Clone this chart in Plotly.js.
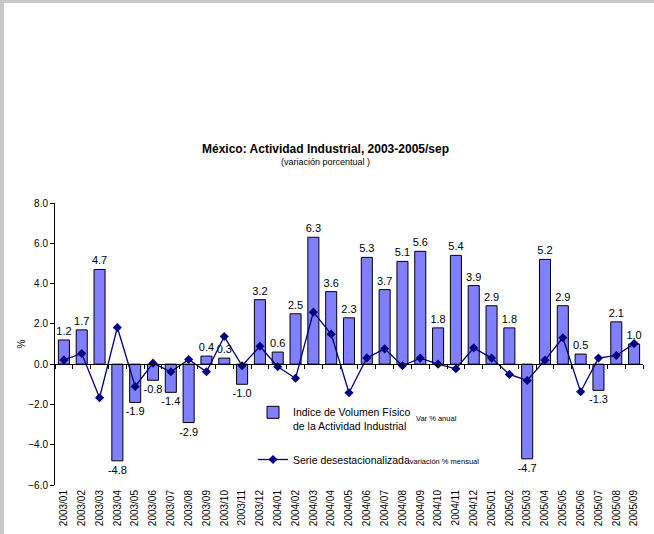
<!DOCTYPE html>
<html>
<head>
<meta charset="utf-8">
<script src="https://cdn.plot.ly/plotly-3.0.1.min.js"></script>
<style>
html,body{margin:0;padding:0;background:#fff;}
#chart{position:absolute;left:0;top:0;width:654px;height:534px;}
#bl{position:absolute;left:0;top:0;width:4px;height:534px;background:#c8c8c8;}
#bt{position:absolute;left:0;top:0;width:654px;height:3px;background:#c8c8c8;}
</style>
</head>
<body>
<div id="chart"></div>
<div id="bl"></div>
<div id="bt"></div>
<script>
const months = ["2003/01","2003/02","2003/03","2003/04","2003/05","2003/06","2003/07","2003/08","2003/09","2003/10","2003/11","2003/12",
"2004/01","2004/02","2004/03","2004/04","2004/05","2004/06","2004/07","2004/08","2004/09","2004/10","2004/11","2004/12",
"2005/01","2005/02","2005/03","2005/04","2005/05","2005/06","2005/07","2005/08","2005/09"];
const anual = [1.2,1.7,4.7,-4.8,-1.9,-0.8,-1.4,-2.9,0.4,0.3,-1.0,3.2,
0.6,2.5,6.3,3.6,2.3,5.3,3.7,5.1,5.6,1.8,5.4,3.9,
2.9,1.8,-4.7,5.2,2.9,0.5,-1.3,2.1,1.0];
const mensual = [0.21,0.53,-1.67,1.82,-1.11,0.05,-0.38,0.23,-0.38,1.37,-0.08,0.89,
-0.13,-0.70,2.58,1.49,-1.42,0.31,0.76,-0.08,0.30,0.0,-0.23,0.81,
0.30,-0.51,-0.81,0.20,1.31,-1.37,0.30,0.43,1.02];
const yTicks = [-6,-4,-2,0,2,4,6,8];

const FONT = '"Liberation Sans", Arial, sans-serif';

const traces = [
  {
    type:'bar', x:months, y:anual, name:'Indice de Volumen Físico<br>de la Actividad Industrial',
    marker:{color:'#8080ff', line:{color:'#000', width:1}},
    text:anual.map(v=>v.toFixed(1)), textposition:'outside', constraintext:'none',
    textfont:{family:FONT, size:11, color:'#000'}, cliponaxis:false,
    legend:'legend', hoverinfo:'x+y'
  },
  {
    type:'scatter', mode:'lines+markers', x:months, y:mensual,
    name:'Serie desestacionalizada<span style="font-size:7.5px">variación % mensual</span>',
    line:{color:'#000080', width:1.3}, marker:{symbol:'diamond', size:7, color:'#000080'},
    cliponaxis:false, legend:'legend2'
  },
  {
    type:'scatter', mode:'markers', x:months, y:months.map(()=>null), xaxis:'x2', showlegend:false, hoverinfo:'skip'
  }
];

const layout = {
  width:654, height:534,
  margin:{l:55, r:11, t:203, b:49},
  paper_bgcolor:'#fff', plot_bgcolor:'rgba(0,0,0,0)',
  font:{family:FONT, color:'#000', size:10},
  bargap:0.38,
  showlegend:true,
  xaxis:{type:'category', range:[-0.5,32.5], showline:false, ticks:'', showgrid:false, zeroline:false,
    tickangle:-90, tickfont:{family:FONT, size:10, color:'#000'}, ticklabelstandoff:2},
  xaxis2:{type:'category', range:[-0.5,32.5], overlaying:'x', anchor:'free', position:6/14,
    showticklabels:false, ticks:'outside', tickson:'boundaries', ticklen:4, tickcolor:'#000', tickwidth:1,
    showline:true, linecolor:'#000', linewidth:1, showgrid:false, zeroline:false, categoryarray:months},
  yaxis:{range:[-6,8], tickvals:yTicks, tickformat:'.1f', ticks:'outside', ticklen:4, tickcolor:'#000',
    showline:true, linecolor:'#000', linewidth:1, showgrid:false, zeroline:true, zerolinecolor:'#000', zerolinewidth:1,
    tickfont:{family:FONT, size:10, color:'#000'},
    title:{text:'%', font:{family:FONT, size:10, color:'#000'}, standoff:0}},
  legend:{x:(253-55)/588, y:(485-399)/282, xanchor:'left', yanchor:'top', bgcolor:'rgba(0,0,0,0)',
    font:{family:FONT, size:10.5, color:'#000'}, valign:'top', itemwidth:30},
  legend2:{x:(253-55)/588, y:(485-445)/282, xanchor:'left', yanchor:'top', bgcolor:'rgba(0,0,0,0)',
    font:{family:FONT, size:10.5, color:'#000'}, itemwidth:30},
  annotations:[
    {text:'<b>México: Actividad Industrial, 2003-2005/sep</b>', xref:'paper', yref:'paper',
      x:(325-55)/588, y:(485-149)/282, showarrow:false, xanchor:'center', yanchor:'middle',
      font:{family:FONT, size:12, color:'#000'}},
    {text:'(variación porcentual )', xref:'paper', yref:'paper',
      x:(325-55)/588, y:(485-162)/282, showarrow:false, xanchor:'center', yanchor:'middle',
      font:{family:FONT, size:9, color:'#000'}},
    {text:'Var % anual', xref:'paper', yref:'paper',
      x:(414-55)/588, y:(485-418)/282, showarrow:false, xanchor:'left', yanchor:'middle',
      font:{family:FONT, size:7.5, color:'#000'}}
  ]
};

Plotly.newPlot('chart', traces, layout, {displayModeBar:false, staticPlot:true});
</script>
</body>
</html>
